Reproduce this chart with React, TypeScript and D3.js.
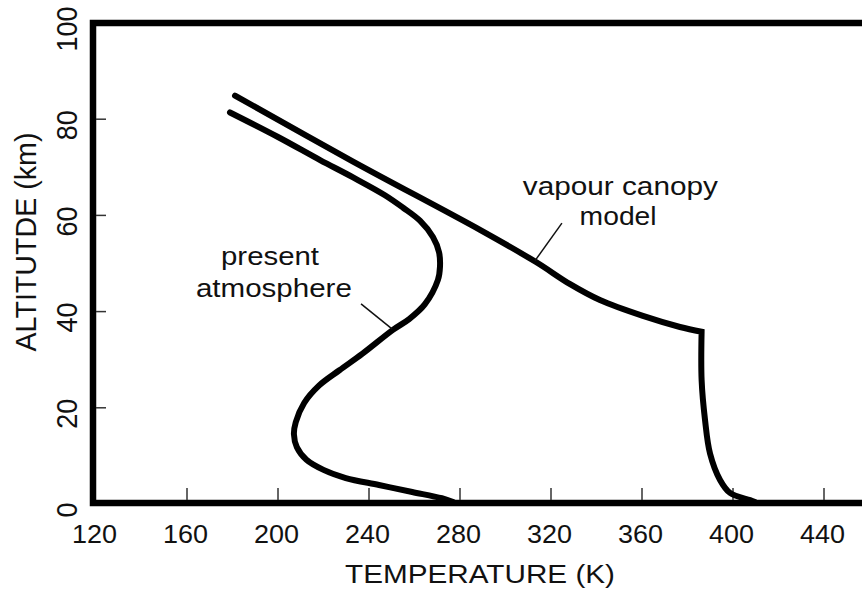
import React from "react";
import * as d3 from "d3";

// Present atmosphere profile: temperature (K) vs altitude (km)
const presentTemp = [178.9, 200, 218.5, 233, 247, 255, 262.4, 268.1, 270.8, 271.2, 270.3, 264.5, 257.5, 250.5, 237, 227, 218, 211.5, 207.8, 207, 208.3, 212.5, 220, 229.8, 244.4, 259, 272, 277];
const presentAlt = [81.4, 76.3, 71.5, 67.9, 64.2, 61.6, 58.9, 55.5, 52.3, 49.3, 46.6, 41.5, 38.4, 36.2, 31.2, 27.8, 24.6, 21, 17, 14.5, 11.8, 9.2, 7.1, 5.4, 3.95, 2.5, 1.2, 0.4];

// Vapour canopy model: upper part (down to the kink) and lower part
const canopyUpperTemp = [181.1, 233, 288.8, 313.4, 328.4, 341.5, 360.4, 376.7, 386.2];
const canopyUpperAlt = [84.9, 71.2, 57.0, 50.3, 45.7, 42.4, 39.1, 36.8, 35.8];
const canopyLowerTemp = [386.2, 386.2, 387.7, 389.9, 394.3, 398.7, 407.5, 409.7];
const canopyLowerAlt = [35.8, 25.8, 17.5, 10.5, 5.0, 2.3, 0.8, 0.4];

const xTicks = [120, 160, 200, 240, 280, 320, 360, 400, 440];
const yTicks = [0, 20, 40, 60, 80, 100];
const xTitle = "TEMPERATURE (K)";
const yTitle = "ALTITUTDE (km)";

export default function App() {
  const W = 862, H = 592;
  const x = d3.scaleLinear().domain([120, 480]).range([96, 915]);
  const y = d3.scaleLinear().domain([0, 100]).range([504, 23]);

  const line = d3
    .line<[number, number]>()
    .x((d) => x(d[0]))
    .y((d) => y(d[1]))
    .curve(d3.curveCatmullRom.alpha(0.5));

  const present = presentTemp.map((t, i) => [t, presentAlt[i]] as [number, number]);
  const upper = canopyUpperTemp.map((t, i) => [t, canopyUpperAlt[i]] as [number, number]);
  const lower = canopyLowerTemp.map((t, i) => [t, canopyLowerAlt[i]] as [number, number]);
  const canopyPath = (line(upper) || "") + (line(lower) || "").replace(/^M/, "L");

  const font = "'Liberation Sans', Arial, Helvetica, sans-serif";
  const fs = 25.5;
  const ink = "#111";

  return (
    <svg width={W} height={H} style={{ position: "absolute", left: 0, top: 0, background: "#fff" }} fontFamily={font}>
      {/* frame */}
      <rect x={93} y={23} width={800} height={480} fill="none" stroke="#000" strokeWidth={6.5} />
      {/* ticks */}
      {xTicks.filter((t) => t > 120).map((t) => (
        <line key={"xt" + t} x1={x(t)} x2={x(t)} y1={500} y2={488} stroke="#333" strokeWidth={1.5} />
      ))}
      {yTicks.filter((t) => t > 0 && t < 100).map((t) => (
        <line key={"yt" + t} x1={96} x2={106} y1={y(t)} y2={y(t)} stroke="#333" strokeWidth={1.5} />
      ))}
      {/* tick labels */}
      {xTicks.map((t) => (
        <text key={"xl" + t} x={x(t) - 1.5} y={543} textAnchor="middle" fontSize={fs} fill={ink}
          textLength={45} lengthAdjust="spacingAndGlyphs">{t}</text>
      ))}
      {yTicks.map((t) => (
        <text key={"yl" + t} transform={`translate(77,${y(t) + 6}) scale(1.15,1) rotate(-90)`}
          textAnchor="middle" fontSize={fs} fill={ink}
          textLength={String(t).length * 15} lengthAdjust="spacingAndGlyphs">{t}</text>
      ))}
      {/* axis titles */}
      <text x={480} y={583} textAnchor="middle" fontSize={fs} fill={ink} textLength={270} lengthAdjust="spacingAndGlyphs">{xTitle}</text>
      <text transform="translate(36,242) scale(1.15,1) rotate(-90)" textAnchor="middle" fontSize={fs} fill={ink}
        textLength={219} lengthAdjust="spacingAndGlyphs">{yTitle}</text>
      {/* curves */}
      <path d={line(present) || ""} fill="none" stroke="#000" strokeWidth={6} strokeLinecap="round" strokeLinejoin="round" />
      <path d={canopyPath} fill="none" stroke="#000" strokeWidth={6} strokeLinecap="round" strokeLinejoin="miter" />
      {/* annotations */}
      <line x1={x(236.5)} y1={y(41.6)} x2={x(250.1)} y2={y(36.4)} stroke="#111" strokeWidth={1.5} />
      <line x1={x(324.8)} y1={y(58.4)} x2={x(313)} y2={y(50.6)} stroke="#111" strokeWidth={1.5} />
      <text x={x(196.5)} y={y(49.7)} textAnchor="middle" fontSize={fs} fill={ink} textLength={98} lengthAdjust="spacingAndGlyphs">present</text>
      <text x={x(198.2)} y={y(43.1)} textAnchor="middle" fontSize={fs} fill={ink} textLength={156} lengthAdjust="spacingAndGlyphs">atmosphere</text>
      <text x={x(350.5)} y={y(64.3)} textAnchor="middle" fontSize={fs} fill={ink} textLength={195} lengthAdjust="spacingAndGlyphs">vapour canopy</text>
      <text x={x(349.5)} y={y(58)} textAnchor="middle" fontSize={fs} fill={ink} textLength={77} lengthAdjust="spacingAndGlyphs">model</text>
    </svg>
  );
}
